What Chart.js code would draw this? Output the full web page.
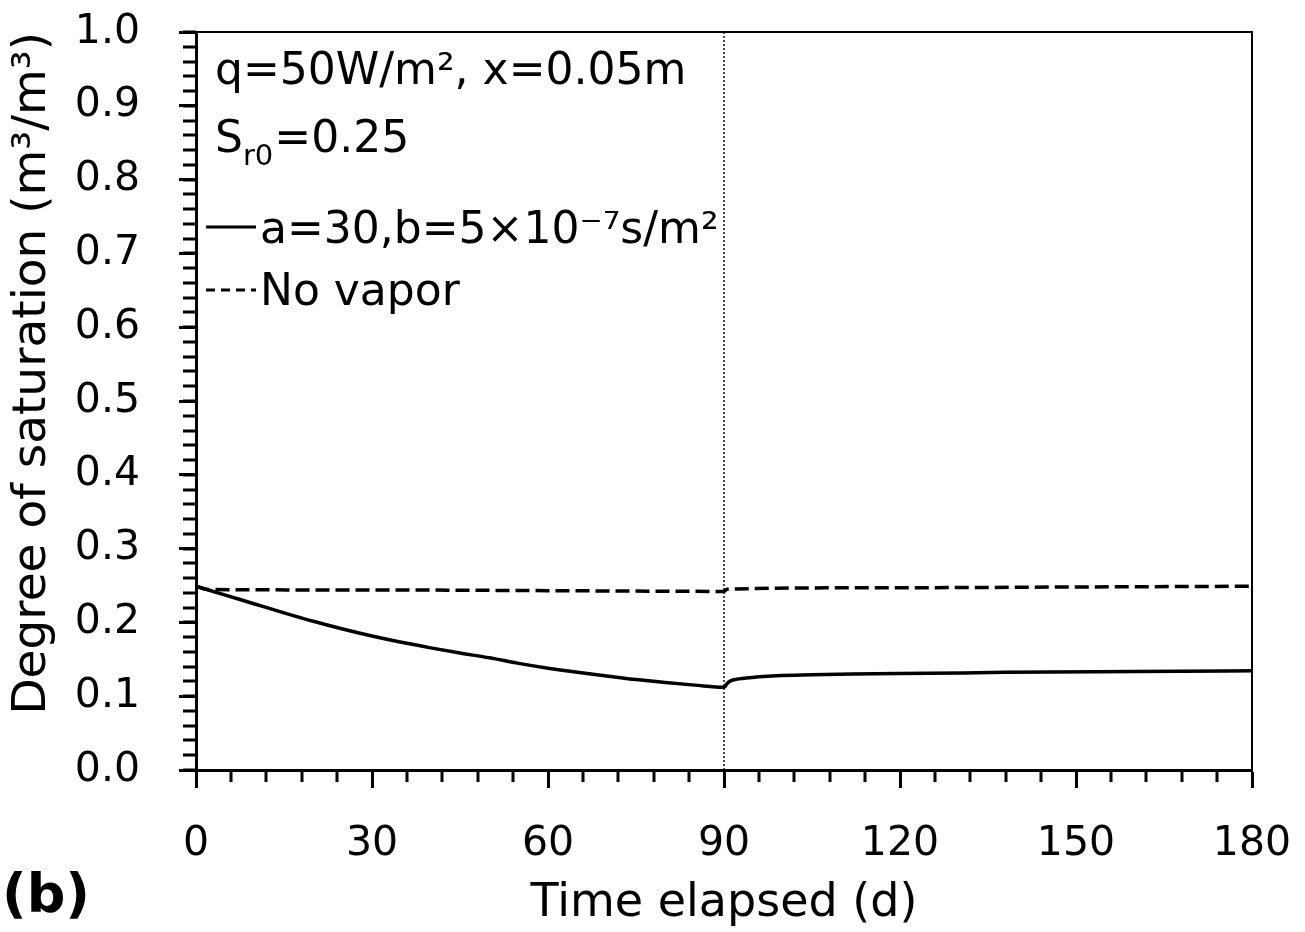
<!DOCTYPE html>
<html lang="en">
<head>
    <meta charset="UTF-8">
    <title>Degree of saturation (b)</title>
    <script src="https://cdn.jsdelivr.net/npm/chart.js"></script>
    <style>
        html, body {
            margin: 0;
            padding: 0;
            background: #fff;
        }
        #wrap {
            width: 1305px;
            height: 932px;
            position: relative;
        }
    </style>
</head>
<body>
    <div id="wrap"><canvas id="chart"></canvas></div>

    <script>
        // vapor case (a=30, b=5e-7 s/m2)
        const vaporDays = [0, 5, 10, 15, 20, 25, 30, 35, 40, 45, 50, 55, 60, 65, 70, 75, 80, 85, 90,
                           90.5, 91.2, 93.8, 99, 105, 112, 125, 138, 160, 180];
        const vaporSat  = [0.249, 0.237, 0.225, 0.213, 0.2015, 0.191, 0.1815, 0.173, 0.1655, 0.1585, 0.152,
                           0.1445, 0.138, 0.1325, 0.1275, 0.1225, 0.1185, 0.115, 0.112,
                           0.117, 0.121, 0.1246, 0.1278, 0.129, 0.130, 0.131, 0.1323, 0.1335, 0.1345];

        // no vapor case
        const noVaporDays = [0, 2, 30, 60, 90, 90.5, 120, 150, 180];
        const noVaporSat  = [0.249, 0.2445, 0.244, 0.243, 0.242, 0.245, 0.247, 0.248, 0.249];

        // heating switched at day 90
        const switchDay = 90;

        const xTicks = [0, 30, 60, 90, 120, 150, 180];
        const yTicks = [0, 0.1, 0.2, 0.3, 0.4, 0.5, 0.6, 0.7, 0.8, 0.9, 1.0];
        const xMinorStep = 6;
        const yMinorStep = 0.02;

        const FONT = "'DejaVu Sans', sans-serif";

        const pairs = (xs, ys) => xs.map((x, i) => ({ x: x, y: ys[i] }));

        const frameAndMinor = {
            id: 'frameAndMinor',
            afterDraw(chart) {
                const { ctx, chartArea: a, scales: { x, y } } = chart;
                ctx.save();
                ctx.strokeStyle = '#000';
                ctx.lineWidth = 3;
                ctx.beginPath();
                for (let d = x.min; d <= x.max + 1e-9; d += xMinorStep) {
                    if (xTicks.includes(Math.round(d))) continue;
                    const px = Math.round(x.getPixelForValue(d));
                    ctx.moveTo(px, a.bottom);
                    ctx.lineTo(px, a.bottom + 12);
                }
                for (let v = y.min; v <= y.max + 1e-9; v += yMinorStep) {
                    const py = Math.round(y.getPixelForValue(v));
                    ctx.moveTo(a.left - 13, py);
                    ctx.lineTo(a.left, py);
                }
                ctx.stroke();

                // top and right frame
                ctx.lineWidth = 2;
                ctx.beginPath();
                ctx.moveTo(a.left, a.top);
                ctx.lineTo(a.right, a.top);
                ctx.lineTo(a.right, a.bottom);
                ctx.stroke();
                ctx.restore();
            }
        };

        const notes = {
            id: 'notes',
            afterDraw(chart) {
                const { ctx } = chart;
                ctx.save();
                ctx.fillStyle = '#000';
                ctx.strokeStyle = '#000';
                ctx.textBaseline = 'alphabetic';
                ctx.textAlign = 'left';

                ctx.font = `44px ${FONT}`;
                ctx.fillText('q=50W/m², x=0.05m', 215, 84);

                ctx.fillText('S', 215, 152);
                const w = ctx.measureText('S').width;
                ctx.font = `29px ${FONT}`;
                ctx.fillText('r0', 215 + w, 165);
                const w2 = ctx.measureText('r0').width;
                ctx.font = `44px ${FONT}`;
                ctx.fillText('=0.25', 215 + w + w2 + 1, 152);

                // solid sample
                ctx.lineWidth = 3;
                ctx.beginPath();
                ctx.moveTo(206, 227);
                ctx.lineTo(256, 227);
                ctx.stroke();
                ctx.fillText('a=30,b=5×10⁻⁷s/m²', 260, 243);

                // dashed sample
                ctx.setLineDash([9, 6]);
                ctx.beginPath();
                ctx.moveTo(206, 290);
                ctx.lineTo(256, 290);
                ctx.stroke();
                ctx.setLineDash([]);
                ctx.fillText('No vapor', 260, 305);

                ctx.font = `bold 54px ${FONT}`;
                ctx.fillText('(b)', 2, 912);
                ctx.restore();
            }
        };

        new Chart(document.getElementById('chart').getContext('2d'), {
            type: 'line',
            data: {
                datasets: [
                    {
                        label: 'a=30, b=5×10⁻⁷s/m²',
                        data: pairs(vaporDays, vaporSat),
                        borderColor: '#000',
                        borderWidth: 3.5,
                        pointRadius: 0,
                        cubicInterpolationMode: 'monotone',
                        fill: false
                    },
                    {
                        label: 'No vapor',
                        data: pairs(noVaporDays, noVaporSat),
                        borderColor: '#000',
                        borderWidth: 3.5,
                        borderDash: [14, 6],
                        pointRadius: 0,
                        cubicInterpolationMode: 'monotone',
                        fill: false
                    },
                    {
                        label: 'switch',
                        data: [{ x: switchDay, y: 0 }, { x: switchDay, y: 1 }],
                        borderColor: '#111',
                        borderWidth: 1.5,
                        borderDash: [2, 2],
                        pointRadius: 0,
                        fill: false
                    }
                ]
            },
            options: {
                responsive: true,
                maintainAspectRatio: false,
                animation: false,
                devicePixelRatio: 1,
                layout: { padding: { top: 32, right: 53, left: 0, bottom: 0 } },
                plugins: {
                    legend: { display: false },
                    tooltip: { enabled: false }
                },
                scales: {
                    x: {
                        type: 'linear',
                        min: 0,
                        max: 180,
                        afterFit: s => { s.height = 162; s.paddingLeft = 0; s.paddingRight = 0; },
                        afterBuildTicks: s => { s.ticks = xTicks.map(v => ({ value: v })); },
                        border: { display: true, color: '#000', width: 3 },
                        grid: { drawOnChartArea: false, drawTicks: true, tickLength: 18, tickWidth: 3, tickColor: '#000' },
                        ticks: {
                            color: '#000',
                            font: { family: FONT, size: 41 },
                            padding: 32,
                            maxRotation: 0,
                            callback: v => String(v)
                        },
                        title: {
                            display: true,
                            text: 'Time elapsed (d)',
                            color: '#000',
                            font: { family: FONT, size: 46 },
                            padding: { top: 0, bottom: 0 }
                        }
                    },
                    y: {
                        type: 'linear',
                        min: 0,
                        max: 1,
                        afterFit: s => { s.width = 196; s.paddingTop = 0; s.paddingBottom = 0; },
                        afterBuildTicks: s => { s.ticks = yTicks.map(v => ({ value: v })); },
                        border: { display: true, color: '#000', width: 3 },
                        grid: { drawOnChartArea: false, drawTicks: true, tickLength: 17, tickWidth: 3, tickColor: '#000' },
                        ticks: {
                            color: '#000',
                            font: { family: FONT, size: 41 },
                            padding: 39,
                            callback: v => Number(v).toFixed(1)
                        },
                        title: {
                            display: true,
                            text: 'Degree of saturation (m³/m³)',
                            color: '#000',
                            align: 'end',
                            font: { family: FONT, size: 47 },
                            padding: { top: 5, bottom: 0 }
                        }
                    }
                }
            },
            plugins: [frameAndMinor, notes]
        });
    </script>
</body>
</html>
